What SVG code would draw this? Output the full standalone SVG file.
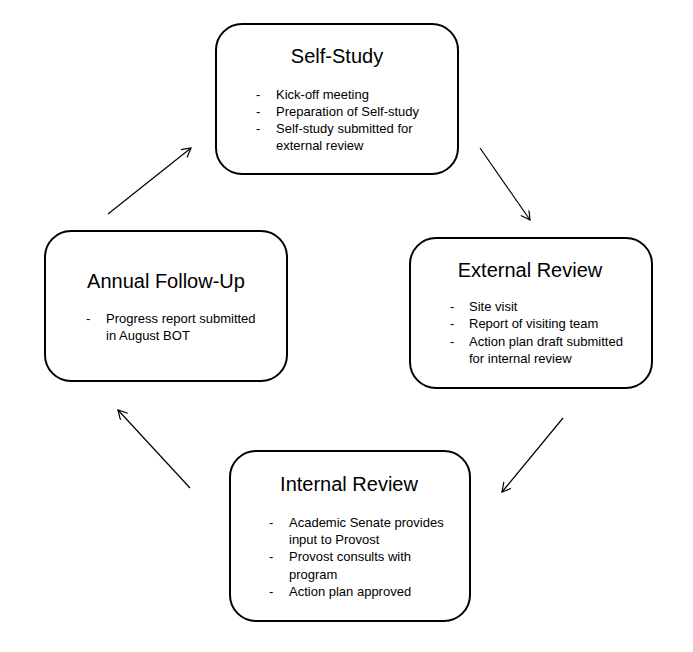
<svg xmlns="http://www.w3.org/2000/svg" width="693" height="652" viewBox="0 0 693 652">
<defs>
<style>
.box{fill:#fff;stroke:#000;stroke-width:2}
.t{font-family:"Liberation Sans",Arial,sans-serif;font-size:20px;text-anchor:middle;fill:#000}
.b{font-family:"Liberation Sans",Arial,sans-serif;font-size:13px;fill:#000}
.c{stroke:#000;stroke-width:1.2;fill:none;marker-end:url(#ah)}
</style>
<marker id="ah" markerWidth="12" markerHeight="12" refX="10" refY="5" orient="auto" markerUnits="userSpaceOnUse">
<path d="M1,0 L10,5 L1,10" fill="none" stroke="#000" stroke-width="1.2"/>
</marker>
</defs>
<rect width="693" height="652" fill="#fff"/>
<g id="connectors">
<line class="c" x1="108" y1="214" x2="191" y2="148"/>
<line class="c" x1="480" y1="148" x2="530" y2="220"/>
<line class="c" x1="563" y1="418" x2="502" y2="492"/>
<line class="c" x1="190" y1="488" x2="118" y2="410"/>
</g>
<g id="self-study">
<rect class="box" x="216" y="24" width="242" height="150" rx="26"/>
<text class="t" x="337" y="63">Self-Study</text>
<text class="b" x="256" y="99">-</text><text class="b" x="276" y="99">Kick-off  meeting</text>
<text class="b" x="256" y="116">-</text><text class="b" x="276" y="116">Preparation of Self-study</text>
<text class="b" x="256" y="133">-</text><text class="b" x="276" y="133">Self-study submitted for</text>
<text class="b" x="276" y="150">external review</text>
</g>
<g id="external-review">
<rect class="box" x="410" y="238" width="242" height="150" rx="26"/>
<text class="t" x="530" y="277">External Review</text>
<text class="b" x="450" y="311">-</text><text class="b" x="469" y="311">Site visit</text>
<text class="b" x="450" y="328">-</text><text class="b" x="469" y="328">Report of visiting team</text>
<text class="b" x="450" y="346">-</text><text class="b" x="469" y="346">Action plan draft submitted</text>
<text class="b" x="469" y="363">for internal review</text>
</g>
<g id="internal-review">
<rect class="box" x="230" y="451" width="240" height="170" rx="26"/>
<text class="t" x="349" y="491">Internal Review</text>
<text class="b" x="269" y="527">-</text><text class="b" x="289" y="527">Academic Senate provides</text>
<text class="b" x="289" y="544">input to Provost</text>
<text class="b" x="269" y="561">-</text><text class="b" x="289" y="561">Provost consults with</text>
<text class="b" x="289" y="579">program</text>
<text class="b" x="269" y="596">-</text><text class="b" x="289" y="596">Action plan approved</text>
</g>
<g id="annual-follow-up">
<rect class="box" x="45" y="231" width="242" height="150" rx="26"/>
<text class="t" x="166" y="288">Annual Follow-Up</text>
<text class="b" x="86" y="323">-</text><text class="b" x="106" y="323">Progress report submitted</text>
<text class="b" x="106" y="340">in August BOT</text>
</g>
</svg>
